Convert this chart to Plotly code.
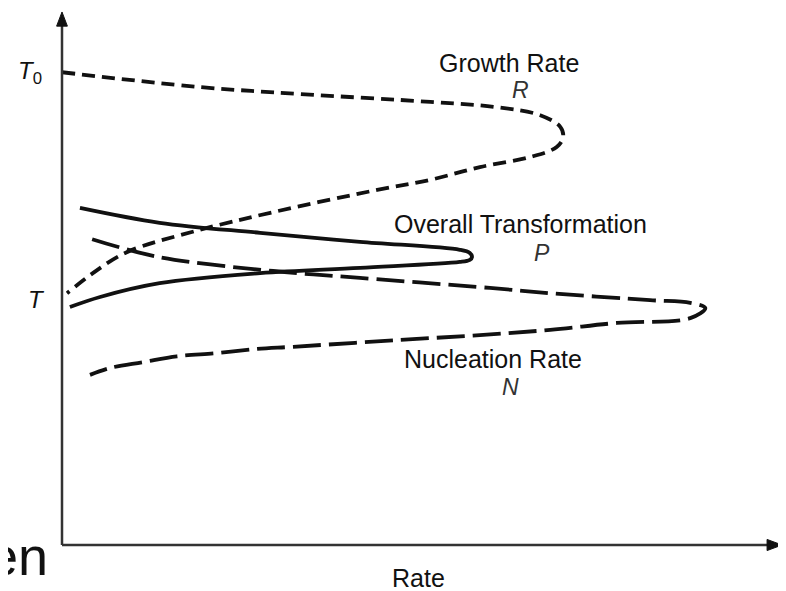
import plotly.graph_objects as go

# Growth rate R (temperature vs rate, arbitrary units 0-100)
growth_rate = [0, 19.2, 33.1, 51.3, 60.6, 66.6, 69.4, 69.8, 68.9, 65.2, 58.2, 51.3, 43.9, 29.4, 18.2, 9.1, 4.3, 0.7]
growth_temp = [89.2, 86.4, 85.1, 83.6, 82.6, 81.1, 78.9, 77.0, 75.1, 73.2, 71.3, 68.9, 67.0, 62.8, 59.1, 55.3, 51.3, 47.5]

# Overall transformation P
overall_rate = [2.5, 13.6, 27.6, 41.5, 55.4, 56.8, 57.1, 56.8, 55.4, 41.5, 27.6, 13.6, 5.3, 1.1]
overall_temp = [63.6, 60.8, 58.9, 57.2, 55.7, 55.1, 54.3, 53.8, 53.4, 52.3, 51.3, 49.4, 46.8, 44.9]

# Nucleation rate N
nucl_rate = [4.2, 13.6, 29.4, 41.5, 59.6, 68.0, 81.9, 87.5, 89.6, 87.5, 77.3, 68.0, 58.2, 47.1, 32.2, 27.2, 21.6, 16.0, 11.3, 6.7, 3.9]
nucl_temp = [57.7, 54.3, 51.7, 50.4, 48.5, 47.5, 46.2, 45.7, 44.7, 42.8, 41.9, 40.6, 39.6, 38.7, 37.4, 37.0, 36.2, 35.6, 34.5, 33.4, 32.1]

fig = go.Figure()
fig.add_trace(go.Scatter(x=growth_rate, y=growth_temp, mode="lines",
                         line=dict(color="#111111", width=3.8, dash="13px,7px", shape="spline", smoothing=1.0),
                         hoverinfo="skip"))
fig.add_trace(go.Scatter(x=overall_rate, y=overall_temp, mode="lines",
                         line=dict(color="#111111", width=3.8, shape="spline", smoothing=1.0),
                         hoverinfo="skip"))
fig.add_trace(go.Scatter(x=nucl_rate, y=nucl_temp, mode="lines",
                         line=dict(color="#111111", width=3.8, dash="28px,8px", shape="spline", smoothing=1.0),
                         hoverinfo="skip"))

axis_color = "#333333"
shapes = [
    # axis lines
    dict(type="line", xref="paper", yref="paper", x0=0, y0=0, x1=0, y1=0.985,
         line=dict(color=axis_color, width=2.5)),
    dict(type="line", xref="paper", yref="paper", x0=0, y0=0, x1=0.988, x1_=None, y1=0,
         line=dict(color=axis_color, width=2.5)) if False else
    dict(type="line", xref="paper", yref="paper", x0=0, y0=0, x1=0.988, y1=0,
         line=dict(color=axis_color, width=2.5)),
    # arrow heads
    dict(type="path", xref="paper", yref="paper",
         path="M -0.0075 0.979 L 0 1.0057 L 0.0075 0.979 Z",
         fillcolor="#111111", line=dict(color="#111111", width=1)),
    dict(type="path", xref="paper", yref="paper",
         path="M 0.982 -0.0105 L 1.0028 0 L 0.982 0.0105 Z",
         fillcolor="#111111", line=dict(color="#111111", width=1)),
]

ann = []
font_main = "Liberation Sans, Arial, sans-serif"
def label(x, y, text, size, xanchor="center", color="#111111"):
    ann.append(dict(x=x / 100.0, y=y / 100.0, xref="paper", yref="paper", text=text, showarrow=False,
                    xanchor=xanchor, yanchor="middle",
                    font=dict(family=font_main, size=size, color=color)))

label(62.3, 90.9, "Growth Rate", 25)
label(63.8, 85.8, "<i>R</i>", 23, color="#333333")
label(63.8, 60.6, "Overall Transformation", 25)
label(66.9, 55.1, "<i>P</i>", 23, color="#333333")
label(60.0, 35.1, "Nucleation Rate", 25)
label(62.4, 29.8, "<i>N</i>", 23, color="#333333")
label(-4.5, 89.1, "<i>T</i><sub>0</sub>", 24)
label(-3.5, 46.4, "<i>T</i>", 24)
label(49.7, -6.2, "Rate", 25)
label(-1.7, -2.1, "en", 54, xanchor="right")

fig.update_layout(
    width=778, height=583,
    margin=dict(l=54, r=6, t=7, b=46),
    paper_bgcolor="white", plot_bgcolor="white",
    showlegend=False,
    xaxis=dict(range=[0, 100], showgrid=False, zeroline=False, showticklabels=False, showline=False, fixedrange=True),
    yaxis=dict(range=[0, 100], showgrid=False, zeroline=False, showticklabels=False, showline=False, fixedrange=True),
    annotations=ann,
    shapes=shapes,
)

fig.write_html("out.html")
